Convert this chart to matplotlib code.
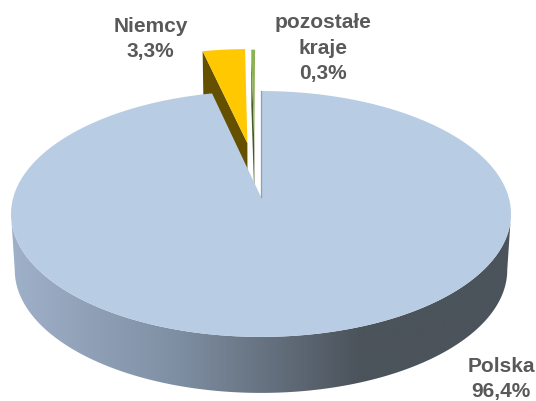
import numpy as np
import matplotlib
matplotlib.use("Agg")
import matplotlib.pyplot as plt
from matplotlib.colors import LinearSegmentedColormap
from matplotlib.patches import Polygon

# Data
labels = ["Polska", "Niemcy", "pozostałe\nkraje"]
values = [96.4, 3.3, 0.3]

# Style
top_colors = ["#b8cce4", "#ffc800", "#8db255"]
side_colors = [None, "#655000", "#47582a"]
explode = [0.0, 0.48, 0.47]
explode_dir = [None, None, 356.5]  # small slice sits further left than its own mid angle
label_pos = [(501, 379), (150.5, 39), (323, 48)]
text_color = "#595959"

# Pie geometry in pixels, with a simple perspective for the tilted disc
cx, cy = 261, 197
sx, sy = 247.6, 120.6
k = 0.138
thick = 56
shrink = 0.985

plt.rcParams['font.family'] = ['Liberation Sans', 'DejaVu Sans']
fig = plt.figure(figsize=(5.36, 4.01), dpi=100)
ax = fig.add_axes([0, 0, 1, 1])


def project(u, v, lower=False):
    w = 1 + k * v
    x = u / w * sx
    y = v / w * sy
    if lower:
        return cx + x * shrink, cy - y + thick
    return cx + x, cy - y


def rim(a0, a1, n=200):
    return np.radians(np.linspace(a0, a1, n))


# Side wall of the big slice, shaded left to right
edge = np.degrees(np.arccos(-k))
t = rim(edge, 360 - edge)
x_top, y_top = project(np.sin(t), np.cos(t))
x_low, y_low = project(np.sin(t), np.cos(t), lower=True)
wall = np.vstack([np.column_stack([x_top, y_top]),
                  np.column_stack([x_low, y_low])[::-1]])
wall_cmap = LinearSegmentedColormap.from_list(
    "wall", [(0, "#9fb0c9"), (0.33, "#7f8fa3"), (0.7, "#4b535b"), (1, "#4b535b")])
grad = np.linspace(0, 1, 256).reshape(1, -1)
clip = Polygon(wall, closed=True, transform=ax.transData, fc="none", ec="none")
ax.add_patch(clip)
im = ax.imshow(grad, cmap=wall_cmap, aspect="auto",
               extent=(wall[:, 0].min(), wall[:, 0].max(),
                       wall[:, 1].max(), wall[:, 1].min()))
im.set_clip_path(clip)

# Exploded slices first, the big slice covers their lower part
angles = np.cumsum([0] + values) / sum(values) * 360
for i in [1, 2]:
    a0, a1 = angles[i], angles[i + 1]
    d = np.radians(explode_dir[i] if explode_dir[i] else (a0 + a1) / 2)
    du, dv = explode[i] * np.sin(d), explode[i] * np.cos(d)
    t = rim(a0, a1, 30)
    u = np.r_[du, du + np.sin(t)]
    v = np.r_[dv, dv + np.cos(t)]
    xa, ya = project(u, v)
    xb, yb = project(u, v, lower=True)
    # radial wall on the left side of the slice
    ax.fill([xa[0], xa[1], xb[1], xb[0]], [ya[0], ya[1], yb[1], yb[0]],
            color=side_colors[i], lw=0)
    ax.fill(xa, ya, color=top_colors[i], lw=0)

# Big slice top
t = rim(angles[0], angles[1], 500)
xp, yp = project(np.r_[0, np.sin(t)], np.r_[0, np.cos(t)])
ax.fill(xp, yp, color=top_colors[0], lw=0)
ax.plot(xp[:2], yp[:2], color="#8f9dae", lw=0.9)

# Labels
for name, val, pos in zip(labels, values, label_pos):
    txt = name + "\n" + f"{val:.1f}%".replace(".", ",")
    ax.text(pos[0], pos[1], txt, ha="center", va="center", fontsize=15,
            fontweight="bold", color=text_color, linespacing=1.4)

ax.set_xlim(0, 536)
ax.set_ylim(401, 0)
ax.axis("off")
fig.savefig("out.png", dpi=100, facecolor="white")
